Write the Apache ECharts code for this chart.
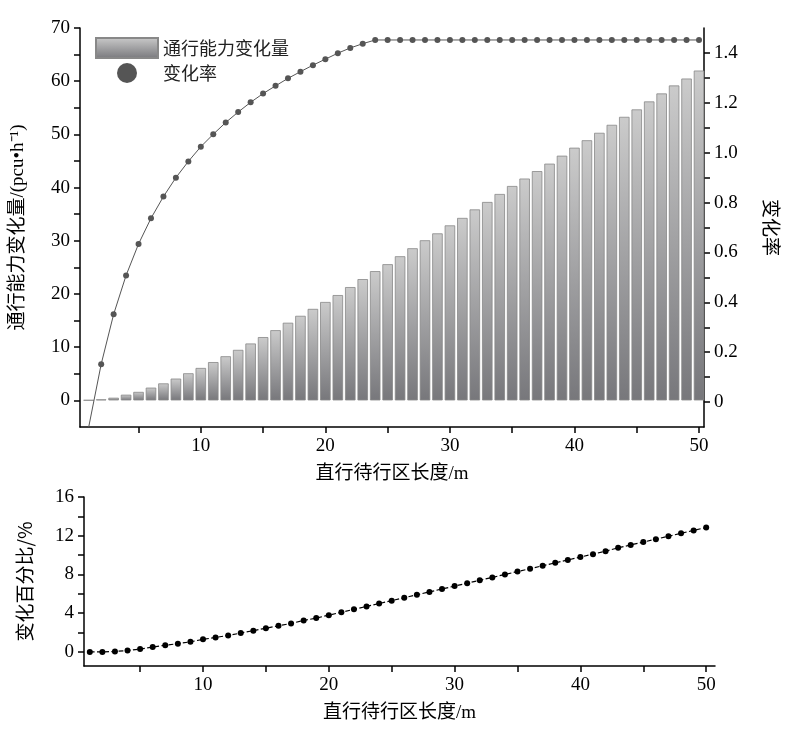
<!DOCTYPE html>
<html><head><meta charset="utf-8">
<script src="https://cdn.jsdelivr.net/npm/echarts@6/dist/echarts.min.js"></script>
<style>html,body{margin:0;padding:0;background:#fff}#c{width:789px;height:730px}</style>
</head><body><div id="c"></div>
<script>
const lengths = Array.from({length:50},(_,i)=>i+1);
const capacityChange = [0.05,0.2,0.5,1.07,1.6,2.4,3.2,4.1,5.1,6.1,7.2,8.3,9.5,10.7,11.9,13.2,14.6,15.9,17.2,18.5,19.8,21.3,22.8,24.3,25.6,27.1,28.6,30.1,31.4,32.9,34.3,35.9,37.3,38.8,40.3,41.7,43.1,44.5,46.0,47.5,48.9,50.3,51.8,53.3,54.7,56.2,57.7,59.2,60.5,62.0];
const changeRate = [-0.1,0.152,0.352,0.508,0.634,0.737,0.824,0.900,0.965,1.024,1.074,1.121,1.163,1.202,1.237,1.268,1.298,1.325,1.351,1.375,1.399,1.420,1.437,1.452,1.452,1.452,1.452,1.452,1.452,1.452,1.452,1.452,1.452,1.452,1.452,1.452,1.452,1.452,1.452,1.452,1.452,1.452,1.452,1.452,1.452,1.452,1.452,1.452,1.452,1.452];
const changePercent = [0,0,0.05,0.15,0.3,0.5,0.7,0.85,1.05,1.3,1.5,1.7,1.95,2.2,2.45,2.7,2.95,3.25,3.5,3.8,4.1,4.4,4.7,5.0,5.3,5.6,5.9,6.2,6.5,6.8,7.1,7.4,7.7,8.0,8.3,8.6,8.9,9.2,9.5,9.8,10.1,10.4,10.75,11.05,11.35,11.65,11.95,12.25,12.55,12.85];
const xTicks = [10,20,30,40,50];
const xMinor = [5,15,25,35,45];

const serif = 'Liberation Serif, Noto Sans CJK SC';
const cjk = 'Noto Sans CJK SC';
const axisLine = {show:true,onZero:false,lineStyle:{color:'#000',width:1.5}};
const FS = 19;
function xAxis(gi,min,max){
  return {type:'value',gridIndex:gi,min:min,max:max,
    axisLine:axisLine,splitLine:{show:false},
    axisTick:{show:true,customValues:xTicks.concat(xMinor),length:6,lineStyle:{color:'#000',width:1.5}},
    axisLabel:{customValues:xTicks,color:'#000',fontFamily:serif,fontSize:FS,margin:10},
    name:'直行待行区长度/m',nameLocation:'middle',nameGap:38,
    nameTextStyle:{color:'#000',fontFamily:serif,fontSize:FS}};
}
const chart = echarts.init(document.getElementById('c'));
chart.setOption({
  animation:false,
  grid:[{left:80,right:79,top:28,height:399},{left:84,right:74,top:497,height:169}],
  legend:{left:90,top:32,orient:'vertical',itemGap:4,itemWidth:62,itemHeight:20,
    textStyle:{fontFamily:cjk,fontSize:18,color:'#222'},
    data:[{name:'通行能力变化量',icon:'rect'},{name:'变化率',icon:'circle'}]},
  xAxis:[xAxis(0,0.3,50.4),xAxis(1,0.54,50.7)],
  yAxis:[
    {type:'value',gridIndex:0,min:-5,max:70,
     axisLine:axisLine,splitLine:{show:false},
     axisTick:{show:true,customValues:[0,5,10,15,20,25,30,35,40,45,50,55,60,65,70],length:6,lineStyle:{color:'#000',width:1.5}},
     axisLabel:{customValues:[0,10,20,30,40,50,60,70],color:'#000',fontFamily:serif,fontSize:FS,margin:10},
     name:'通行能力变化量/(pcu•h⁻¹)',nameLocation:'middle',nameGap:52,
     nameTextStyle:{color:'#000',fontFamily:serif,fontSize:FS}},
    {type:'value',gridIndex:0,min:-0.1,max:1.5,position:'right',
     axisLine:axisLine,splitLine:{show:false},
     axisTick:{show:true,customValues:[0,0.1,0.2,0.3,0.4,0.5,0.6,0.7,0.8,0.9,1.0,1.1,1.2,1.3,1.4],length:6,lineStyle:{color:'#000',width:1.5}},
     axisLabel:{customValues:[0,0.2,0.4,0.6,0.8,1.0,1.2,1.4],color:'#000',fontFamily:serif,fontSize:FS,margin:10,
       formatter:v=>v===0?'0':v.toFixed(1)},
     name:'变化率',nameLocation:'middle',nameGap:58,nameRotate:-90,
     nameTextStyle:{color:'#000',fontFamily:cjk,fontSize:FS}},
    {type:'value',gridIndex:1,min:-1.45,max:16,
     axisLine:axisLine,splitLine:{show:false},
     axisTick:{show:true,customValues:[0,2,4,6,8,10,12,14,16],length:6,lineStyle:{color:'#000',width:1.5}},
     axisLabel:{customValues:[0,4,8,12,16],color:'#000',fontFamily:serif,fontSize:FS,margin:10},
     name:'变化百分比/%',nameLocation:'middle',nameGap:50,
     nameTextStyle:{color:'#000',fontFamily:cjk,fontSize:FS}}
  ],
  series:[
    {name:'通行能力变化量',type:'bar',xAxisIndex:0,yAxisIndex:0,barWidth:10.5,
     data:lengths.map((x,i)=>[x,capacityChange[i]]),
     itemStyle:{borderColor:'#888',borderWidth:0.8,
       color:new echarts.graphic.LinearGradient(0,0,0,1,[{offset:0,color:'#cbcbcb'},{offset:1,color:'#77777b'}])}},
    {name:'变化率',type:'line',xAxisIndex:0,yAxisIndex:1,clip:true,
     data:lengths.map((x,i)=>i===0?{value:[x,changeRate[i]],symbol:'none'}:[x,changeRate[i]]),
     symbol:'circle',symbolSize:6,lineStyle:{color:'#555',width:1},
     itemStyle:{color:'#555'}},
    {name:'变化百分比',type:'line',xAxisIndex:1,yAxisIndex:2,
     data:lengths.map((x,i)=>[x,changePercent[i]]),
     symbol:'circle',symbolSize:6,lineStyle:{color:'#000',width:1.2,type:'dashed'},
     itemStyle:{color:'#000'}}
  ]
});
</script></body></html>
